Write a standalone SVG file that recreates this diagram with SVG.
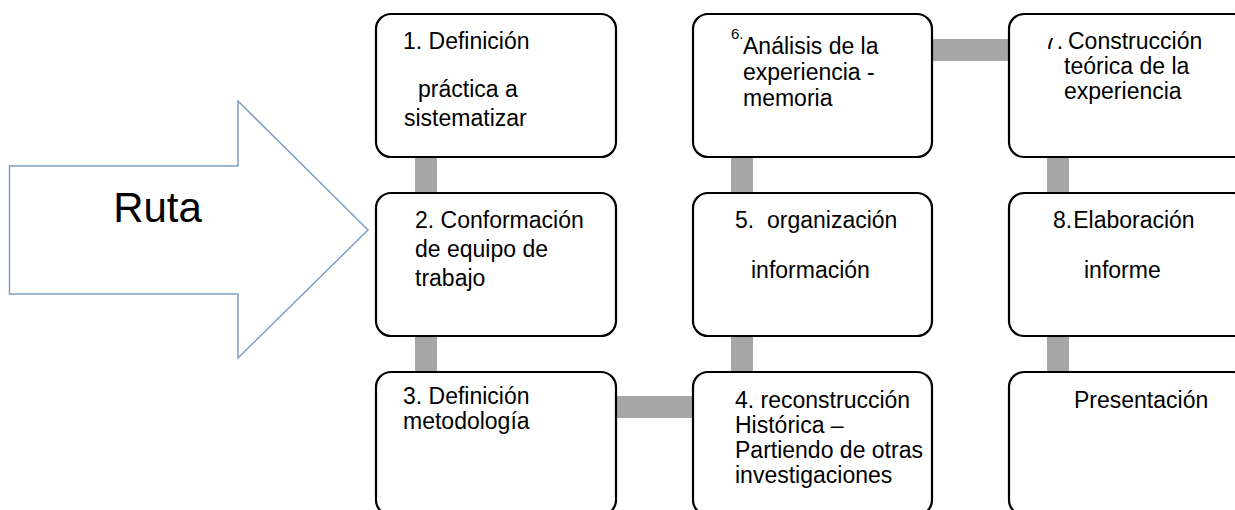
<svg xmlns="http://www.w3.org/2000/svg" width="1235" height="510" viewBox="0 0 1235 510">
  <defs>
    <style>
      .box { fill: #ffffff; stroke: #000000; stroke-width: 2.2; }
      .conn { fill: #a6a6a6; stroke: none; }
      .t { font-family: "Liberation Sans", Arial, sans-serif; font-size: 23px; fill: #000000; }
      .big { font-family: "Liberation Sans", Arial, sans-serif; font-size: 42px; fill: #000000; }
      .small { font-family: "Liberation Sans", Arial, sans-serif; font-size: 15px; fill: #000000; }
      .arrow { fill: #ffffff; stroke: #7f9ec6; stroke-width: 1.5; }
    </style>
    <clipPath id="clip7">
      <rect x="1038" y="38" width="26" height="20"/>
    </clipPath>
  </defs>
  <rect x="0" y="0" width="1235" height="510" fill="#ffffff"/>

  <g id="ruta">
    <polygon class="arrow" points="9.5,166 238,166 238,101 368,230 238,358 238,294 9.5,294"/>
    <text class="big" x="157.5" y="222" text-anchor="middle">Ruta</text>
  </g>

  <g id="connectors">
    <rect class="conn" x="415" y="150" width="22" height="50"/>
    <rect class="conn" x="415" y="330" width="22" height="50"/>
    <rect class="conn" x="610" y="396" width="90" height="22"/>
    <rect class="conn" x="731" y="330" width="22" height="50"/>
    <rect class="conn" x="731" y="150" width="22" height="50"/>
    <rect class="conn" x="925" y="39" width="90" height="22"/>
    <rect class="conn" x="1047" y="150" width="22" height="50"/>
    <rect class="conn" x="1047" y="330" width="22" height="50"/>
  </g>

  <g id="node1">
    <rect class="box" x="376" y="14" width="240" height="143" rx="15" ry="15"/>
    <text class="t" x="403" y="49">1. Definición</text>
    <text class="t" x="418" y="97">práctica a</text>
    <text class="t" x="404" y="126">sistematizar</text>
  </g>

  <g id="node2">
    <rect class="box" x="376" y="193" width="240" height="143" rx="15" ry="15"/>
    <text class="t" x="415" y="228">2. Conformación</text>
    <text class="t" x="415" y="257">de equipo de</text>
    <text class="t" x="415" y="286">trabajo</text>
  </g>

  <g id="node3">
    <rect class="box" x="376" y="372" width="240" height="143" rx="15" ry="15"/>
    <text class="t" x="403" y="404">3. Definición</text>
    <text class="t" x="403" y="429">metodología</text>
  </g>

  <g id="node4">
    <rect class="box" x="693" y="372" width="239" height="143" rx="15" ry="15"/>
    <text class="t" x="735" y="408">4. reconstrucción</text>
    <text class="t" x="735" y="433">Histórica –</text>
    <text class="t" x="735" y="458">Partiendo de otras</text>
    <text class="t" x="735" y="483">investigaciones</text>
  </g>

  <g id="node5">
    <rect class="box" x="693" y="193" width="239" height="143" rx="15" ry="15"/>
    <text class="t" x="735" y="228" xml:space="preserve">5.  organización</text>
    <text class="t" x="751" y="278">información</text>
  </g>

  <g id="node6">
    <rect class="box" x="693" y="14" width="239" height="143" rx="15" ry="15"/>
    <text class="small" x="731" y="39">6.</text>
    <text class="t" x="743" y="54">Análisis de la</text>
    <text class="t" x="743" y="80">experiencia -</text>
    <text class="t" x="743" y="106">memoria</text>
  </g>

  <g id="node7">
    <rect class="box" x="1009" y="14" width="240" height="143" rx="15" ry="15"/>
    <text class="t" x="1044" y="49" clip-path="url(#clip7)">7.</text>
    <text class="t" x="1068" y="49">Construcción</text>
    <text class="t" x="1064" y="74">teórica de la</text>
    <text class="t" x="1064" y="99">experiencia</text>
  </g>

  <g id="node8">
    <rect class="box" x="1009" y="193" width="240" height="143" rx="15" ry="15"/>
    <text class="t" x="1053" y="228">8.<tspan dx="1">Elaboración</tspan></text>
    <text class="t" x="1084" y="278">informe</text>
  </g>

  <g id="node9">
    <rect class="box" x="1009" y="372" width="240" height="143" rx="15" ry="15"/>
    <text class="t" x="1074" y="408">Presentación</text>
  </g>
</svg>
